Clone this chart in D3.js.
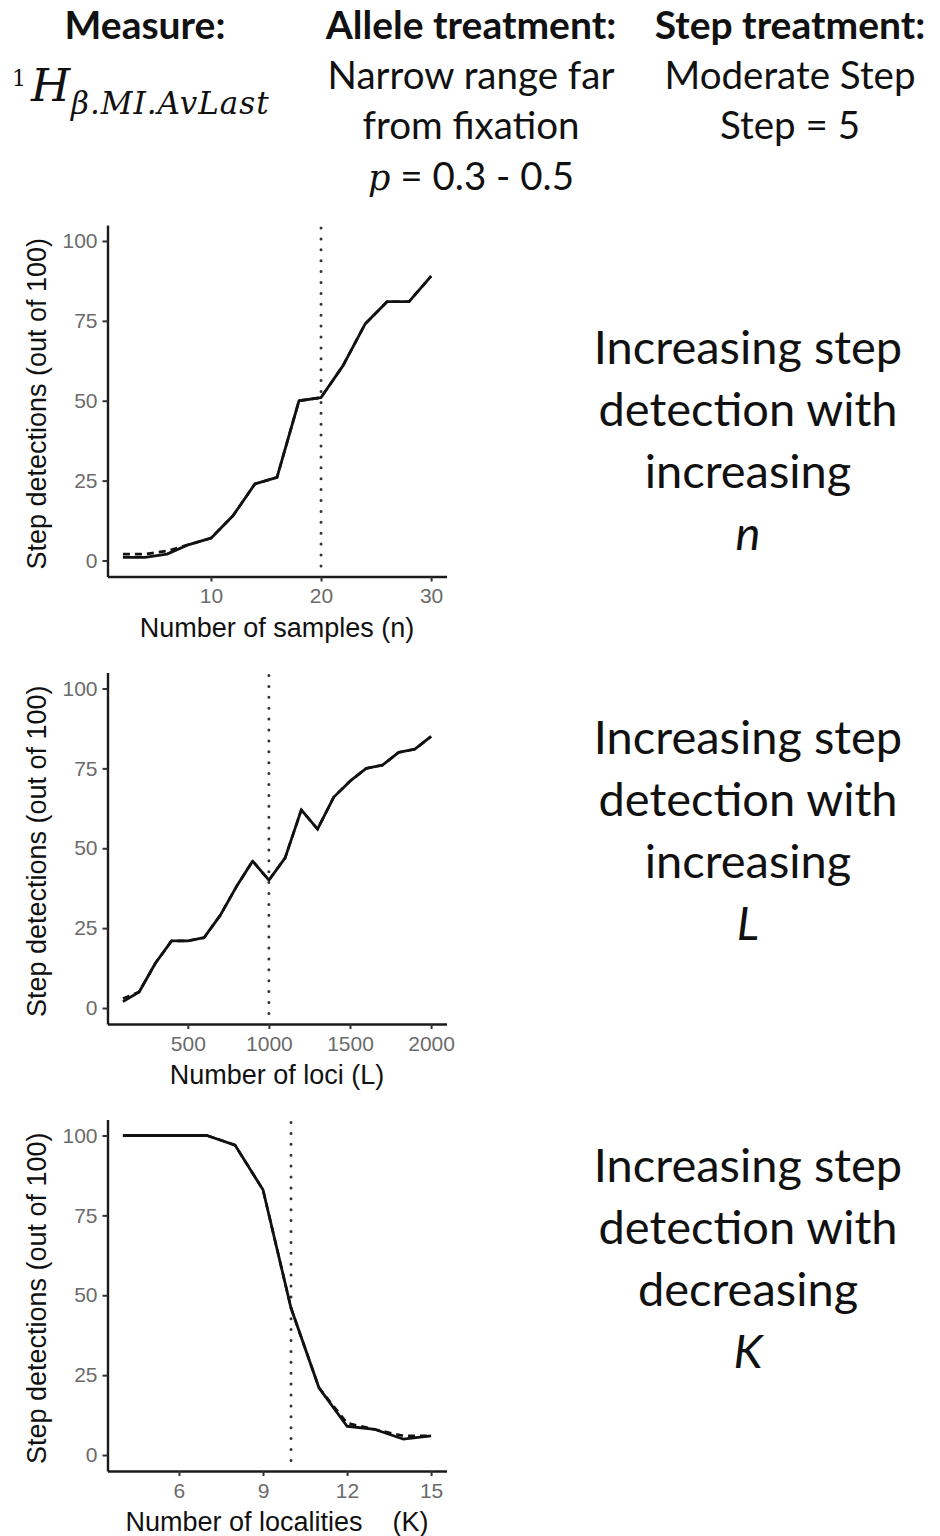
<!DOCTYPE html>
<html>
<head>
<meta charset="utf-8">
<script src="https://cdn.jsdelivr.net/npm/d3@7/dist/d3.min.js"></script>
<style>
    body { margin: 0; background: #fff; }
    svg { display: block; }
</style>
</head>
<body>
<div id="vis"></div>
<script>
// number of samples (n)
const SAMPLES_N = [2, 4, 6, 8, 10, 12, 14, 16, 18, 20, 22, 24, 26, 28, 30]
const SAMPLES_SOLID = [1, 1, 2, 5, 7, 14, 24, 26, 50, 51, 61, 74, 81, 81, 89]
const SAMPLES_DASHED = [2, 2, 3, 5, 7, 14, 24, 26, 50, 51, 61, 74, 81, 81, 89]

// number of loci (L)
const LOCI_L = [100, 200, 300, 400, 500, 600, 700, 800, 900, 1000, 1100, 1200, 1300, 1400, 1500, 1600, 1700, 1800, 1900, 2000]
const LOCI_SOLID = [2, 5, 14, 21, 21, 22, 29, 38, 46, 40, 47, 62, 56, 66, 71, 75, 76, 80, 81, 85]
const LOCI_DASHED = [3, 5, 14, 21, 21, 22, 29, 38, 46, 40, 47, 62, 56, 66, 71, 75, 76, 80, 81, 85]

// number of localities (K)
const LOCALITIES_K = [4, 5, 6, 7, 8, 9, 10, 11, 12, 13, 14, 15]
const LOCALITIES_SOLID = [100, 100, 100, 100, 97, 83, 46, 21, 9, 8, 5, 6]
const LOCALITIES_DASHED = [100, 100, 100, 100, 97, 83, 46, 21, 10, 8, 6, 6]

const Y_TICKS = [0, 25, 50, 75, 100]
const Y_LIMITS = [0, 100]
const Y_TITLE = 'Step detections (out of 100)'

const PANELS = [
    {
        x: SAMPLES_N, solid: SAMPLES_SOLID, dashed: SAMPLES_DASHED,
        ticks: [10, 20, 30], vline: 20,
        title: 'Number of samples (n)',
        note: ['Increasing step', 'detection with', 'increasing', 'n'],
        top: 225, noteTop: 364
    },
    {
        x: LOCI_L, solid: LOCI_SOLID, dashed: LOCI_DASHED,
        ticks: [500, 1000, 1500, 2000], vline: 1000,
        title: 'Number of loci (L)',
        note: ['Increasing step', 'detection with', 'increasing', 'L'],
        top: 672.5, noteTop: 754
    },
    {
        x: LOCALITIES_K, solid: LOCALITIES_SOLID, dashed: LOCALITIES_DASHED,
        ticks: [6, 9, 12, 15], vline: 10,
        title: 'Number of localities\u00a0\u00a0\u00a0\u00a0(K)',
        note: ['Increasing step', 'detection with', 'decreasing', 'K'],
        top: 1119.5, noteTop: 1182
    }
]

const HEADERS = [
    {x: 145, bold: 'Measure:'},
    {x: 471, bold: 'Allele treatment:', lines: ['Narrow range far', 'from fixation']},
    {x: 790, bold: 'Step treatment:', lines: ['Moderate Step', 'Step = 5']}
]

const SANS = 'Lato, "Open Sans", sans-serif'
const PLOT_FONT = '"Liberation Sans", Arial, sans-serif'
const SERIF = '"DejaVu Serif", serif'

function renderSvg() {
    return d3.select('#vis')
        .append('svg')
        .attr('width', 940)
        .attr('height', 1536)
}

// ggplot style 5% expansion of a range
function expand(extent, mult = 0.05) {
    let pad = (extent[1] - extent[0]) * mult
    return [extent[0] - pad, extent[1] + pad]
}

function renderHeader(svg) {
    let g = svg.append('g')

    let cols = g.selectAll('g.col')
        .data(HEADERS)
        .enter().append('g')
        .attr('class', 'col')
        .attr('transform', d => `translate(${d.x}, 0)`)

    cols.append('text')
        .attr('y', 39)
        .attr('text-anchor', 'middle')
        .style('font-family', SANS)
        .style('font-weight', 'bold')
        .style('font-size', '39px')
        .attr('fill', '#111')
        .text(d => d.bold)

    cols.selectAll('text.line')
        .data(d => d.lines || [])
        .enter().append('text')
        .attr('class', 'line')
        .attr('y', (d, i) => 89 + i * 50)
        .attr('text-anchor', 'middle')
        .style('font-family', SANS)
        .style('font-size', '38.5px')
        .attr('fill', '#111')
        .text(d => d)

    // p = 0.3 - 0.5 under the allele column
    let pLine = g.append('text')
        .attr('x', 471)
        .attr('y', 190)
        .attr('text-anchor', 'middle')
        .style('font-size', '38.5px')
        .attr('fill', '#111')
    pLine.append('tspan')
        .style('font-family', SERIF)
        .style('font-style', 'italic')
        .style('font-size', '35px')
        .text('p')
    pLine.append('tspan')
        .style('font-family', SANS)
        .text(' = 0.3 - 0.5')

    // measure formula: 1H with subscript
    g.append('text')
        .attr('x', 12)
        .attr('y', 86)
        .style('font-family', SERIF)
        .style('font-size', '22px')
        .attr('fill', '#111')
        .text('1')
    g.append('text')
        .attr('x', 31)
        .attr('y', 101)
        .style('font-family', SERIF)
        .style('font-style', 'italic')
        .style('font-size', '45px')
        .attr('fill', '#111')
        .text('H')
    g.append('text')
        .attr('x', 71)
        .attr('y', 114)
        .style('font-family', SERIF)
        .style('font-style', 'italic')
        .style('font-size', '31px')
        .style('letter-spacing', '1px')
        .attr('fill', '#111')
        .text('\u03b2.MI.AvLast')
}

function renderPanel(svg, p) {
    let left = 107.5, right = 446.5, height = 351.5
    let top = p.top, bottom = p.top + height

    let x = d3.scaleLinear()
        .domain(expand(d3.extent(p.x)))
        .range([left, right])
    let y = d3.scaleLinear()
        .domain(expand(Y_LIMITS))
        .range([bottom, top])

    let g = svg.append('g')

    let xAxis = g.append('g')
        .attr('transform', `translate(0, ${bottom})`)
        .call(d3.axisBottom(x).tickValues(p.ticks).tickFormat(d3.format('d'))
            .tickSize(5).tickSizeOuter(0).tickPadding(7))
    let yAxis = g.append('g')
        .attr('transform', `translate(${left}, 0)`)
        .call(d3.axisLeft(y).tickValues(Y_TICKS).tickSize(5).tickSizeOuter(0).tickPadding(5))

    for (let ax of [xAxis, yAxis]) {
        ax.select('.domain')
            .attr('stroke', '#1a1a1a')
            .attr('stroke-width', 2.4)
        ax.selectAll('.tick line')
            .attr('stroke', '#333')
            .attr('stroke-width', 2)
        ax.selectAll('.tick text')
            .attr('fill', '#6b6b6b')
            .style('font-family', PLOT_FONT)
            .style('font-size', '21px')
    }

    // reference value
    g.append('line')
        .attr('x1', x(p.vline))
        .attr('x2', x(p.vline))
        .attr('y1', top + 3)
        .attr('y2', bottom)
        .attr('stroke', '#333')
        .attr('stroke-width', 3)
        .attr('stroke-linecap', 'round')
        .attr('stroke-dasharray', '0 10.9')

    let line = d3.line()
        .x(d => x(d[0]))
        .y(d => y(d[1]))

    g.append('path')
        .datum(d3.zip(p.x, p.dashed))
        .attr('d', line)
        .attr('fill', 'none')
        .attr('stroke', '#111')
        .attr('stroke-width', 2.6)
        .attr('stroke-dasharray', '7 5')

    g.append('path')
        .datum(d3.zip(p.x, p.solid))
        .attr('d', line)
        .attr('fill', 'none')
        .attr('stroke', '#111')
        .attr('stroke-width', 2.8)
        .attr('stroke-linejoin', 'round')

    g.append('text')
        .attr('x', (left + right) / 2)
        .attr('y', bottom + 60)
        .attr('text-anchor', 'middle')
        .style('font-family', PLOT_FONT)
        .style('font-size', '27px')
        .attr('fill', '#111')
        .text(p.title)

    g.append('text')
        .attr('transform', `translate(46, ${(top + bottom) / 2 + 3}) rotate(-90)`)
        .attr('text-anchor', 'middle')
        .style('font-family', PLOT_FONT)
        .style('font-size', '27px')
        .attr('fill', '#111')
        .text(Y_TITLE)

    // the note on the right
    let last = p.note.length - 1
    g.selectAll('text.note')
        .data(p.note)
        .enter().append('text')
        .attr('class', 'note')
        .attr('x', 748)
        .attr('y', (d, i) => p.noteTop + i * 62)
        .attr('text-anchor', 'middle')
        .style('font-family', SANS)
        .style('font-size', '47px')
        .style('font-style', (d, i) => i === last ? 'italic' : 'normal')
        .attr('fill', '#111')
        .text(d => d)
}

let svg = renderSvg()
renderHeader(svg)
for (let p of PANELS) {
    renderPanel(svg, p)
}
</script>
</body>
</html>
